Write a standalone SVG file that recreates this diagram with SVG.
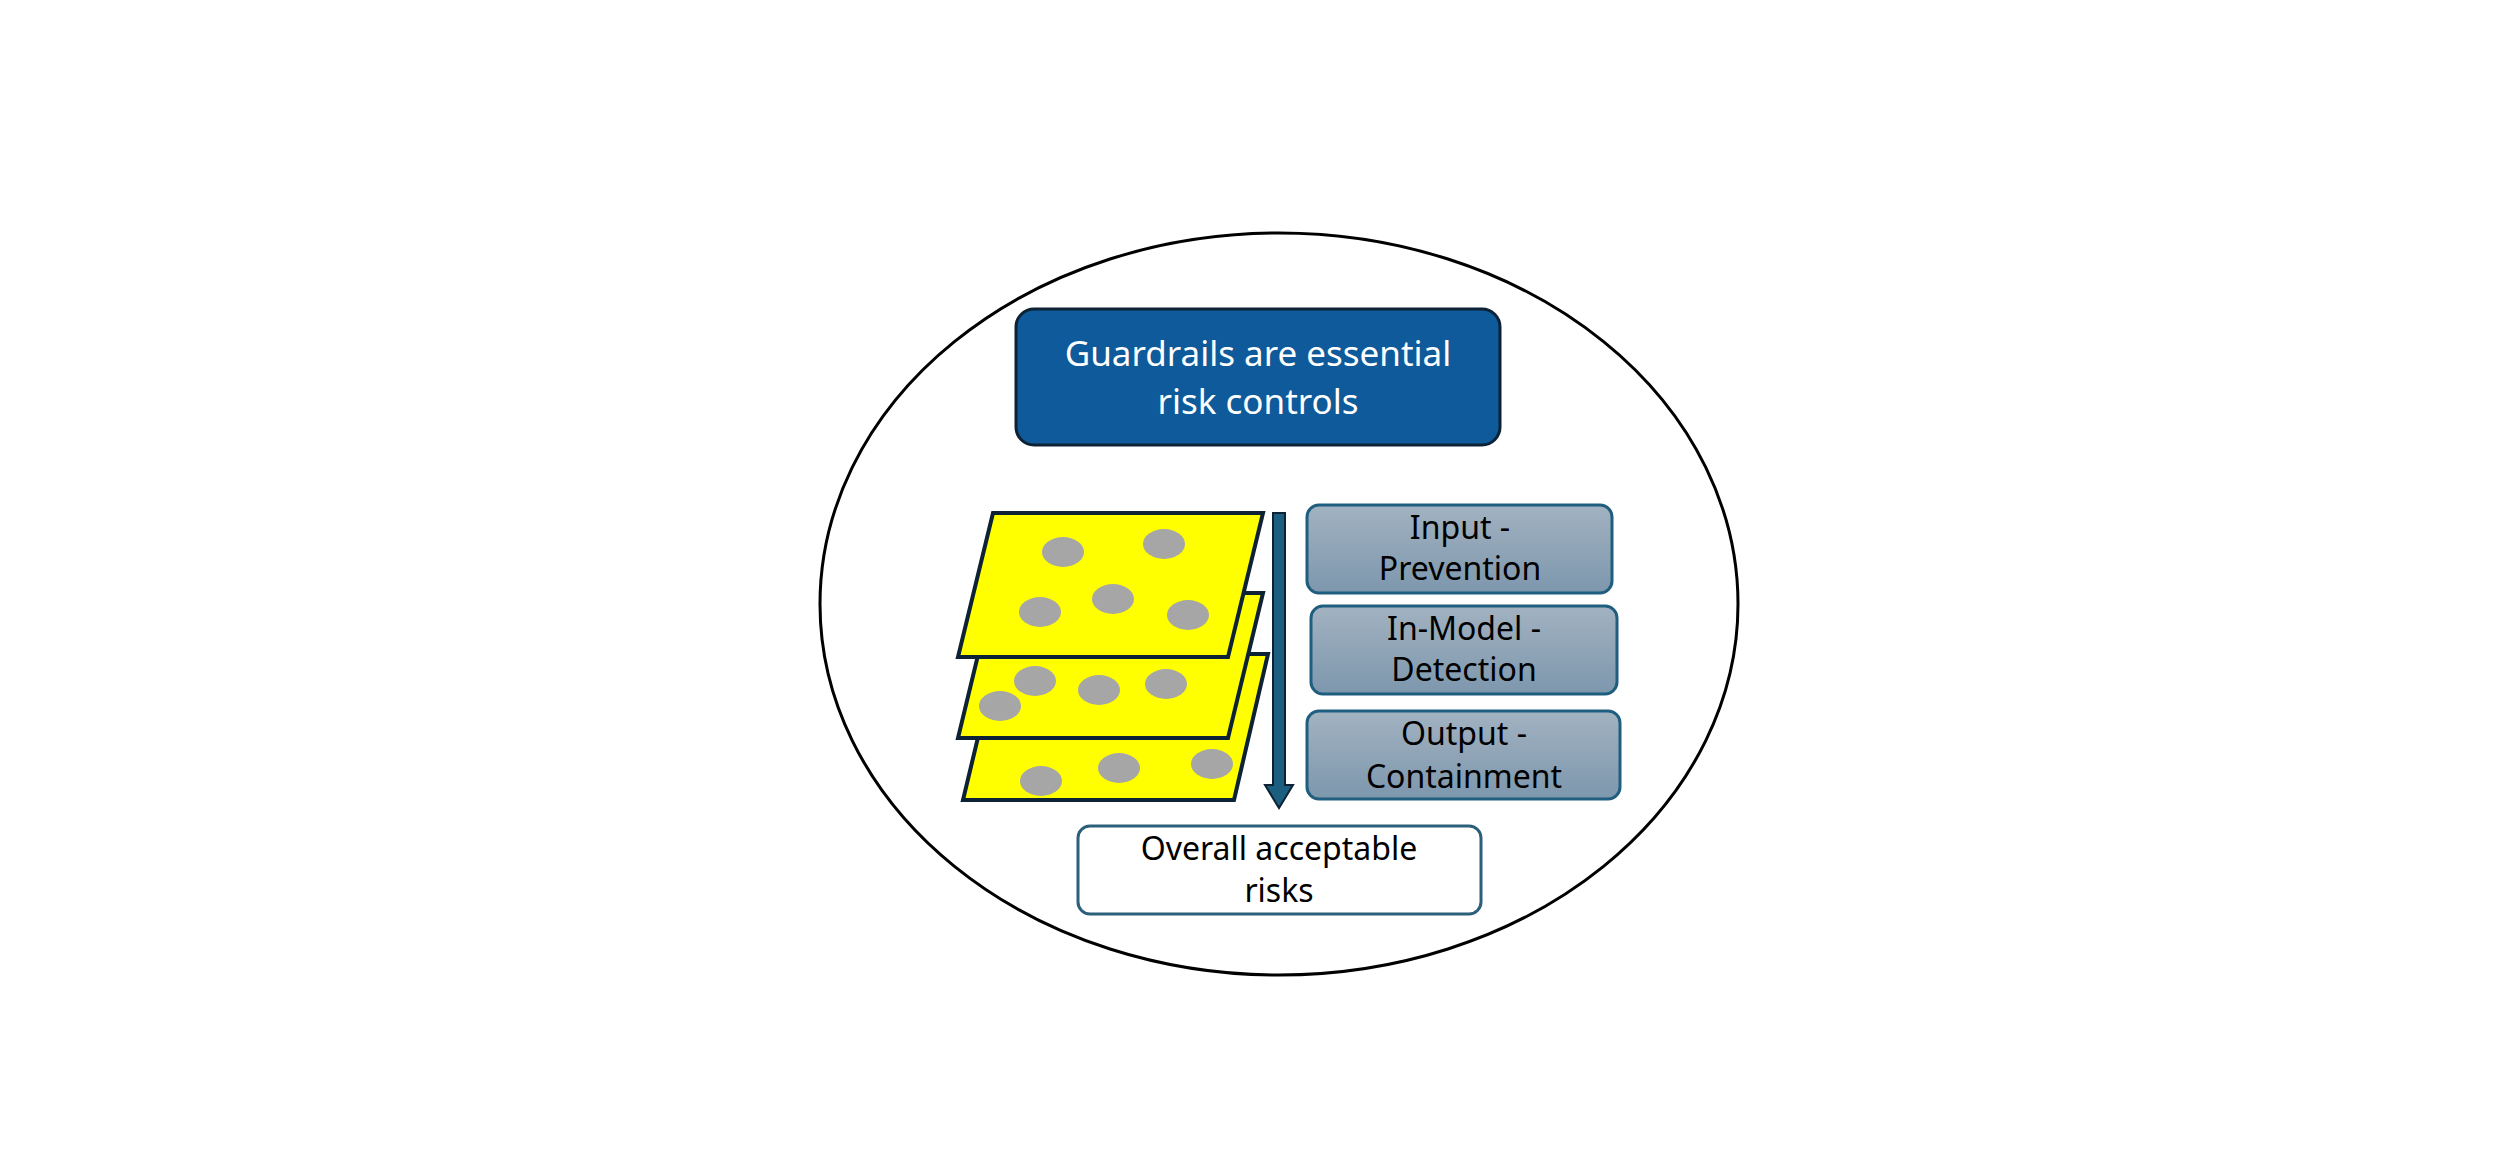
<svg xmlns="http://www.w3.org/2000/svg" width="2500" height="1171" viewBox="0 0 2500 1171">
<defs>
<linearGradient id="g" x1="0" y1="0" x2="0" y2="1"><stop offset="0" stop-color="#A2B2C1"/><stop offset="1" stop-color="#7D97AD"/></linearGradient>
<style>
.t{font-family:"Noto Sans","Liberation Sans",sans-serif;font-size:32px;text-anchor:middle;fill:#000}
.w{font-family:"Noto Sans","Liberation Sans",sans-serif;font-size:35px;text-anchor:middle;fill:#fff}
.s{fill:#FFFF00;stroke:#0D2235;stroke-width:4}
.d{fill:#A6A6A6}
.b{fill:url(#g);stroke:#1F5E7E;stroke-width:3}
</style>
</defs>
<rect width="2500" height="1171" fill="#fff"/>
<ellipse cx="1279" cy="604" rx="459" ry="371" fill="none" stroke="#000" stroke-width="3"/>
<g id="title"><rect x="1016" y="309" width="484" height="136" rx="18" fill="#0E5A9A" stroke="#0D2235" stroke-width="3"/>
<text class="w" x="1258" y="366">Guardrails are essential</text><text class="w" x="1258" y="414">risk controls</text></g>
<g id="slices">
<polygon class="s" points="998,654 1268,654 1234,800 963,800"/>
<ellipse class="d" cx="1041" cy="781" rx="21" ry="15"/><ellipse class="d" cx="1119" cy="768" rx="21" ry="15"/><ellipse class="d" cx="1212" cy="764" rx="21" ry="15"/>
<polygon class="s" points="993,593 1263,593 1228,738 958,738"/>
<ellipse class="d" cx="1035" cy="681" rx="21" ry="15"/><ellipse class="d" cx="1099" cy="690" rx="21" ry="15"/><ellipse class="d" cx="1166" cy="684" rx="21" ry="15"/><ellipse class="d" cx="1000" cy="706" rx="21" ry="15"/>
<polygon class="s" points="993,513 1263,513 1228,657 958,657"/>
<ellipse class="d" cx="1063" cy="552" rx="21" ry="15"/><ellipse class="d" cx="1164" cy="544" rx="21" ry="15"/><ellipse class="d" cx="1040" cy="612" rx="21" ry="15"/><ellipse class="d" cx="1113" cy="599" rx="21" ry="15"/><ellipse class="d" cx="1188" cy="615" rx="21" ry="15"/>
</g>
<g id="connectors"><polygon points="1273,513 1285,513 1285,785 1293,785 1279,808 1265,785 1273,785" fill="#1B5E80" stroke="#0D2235" stroke-width="2"/></g>
<g id="input"><rect class="b" x="1307" y="505" width="305" height="88" rx="12"/><text class="t" x="1460" y="539">Input -</text><text class="t" x="1460" y="580">Prevention</text></g>
<g id="inmodel"><rect class="b" x="1311" y="606" width="306" height="88" rx="12"/><text class="t" x="1464" y="640">In-Model -</text><text class="t" x="1464" y="681">Detection</text></g>
<g id="output"><rect class="b" x="1307" y="711" width="313" height="88" rx="12"/><text class="t" x="1464" y="745">Output -</text><text class="t" x="1464" y="788">Containment</text></g>
<g id="overall"><rect x="1078" y="826" width="403" height="88" rx="12" fill="#fff" stroke="#2C5F7A" stroke-width="3"/><text class="t" x="1279" y="860">Overall acceptable</text><text class="t" x="1279" y="902">risks</text></g>
</svg>
